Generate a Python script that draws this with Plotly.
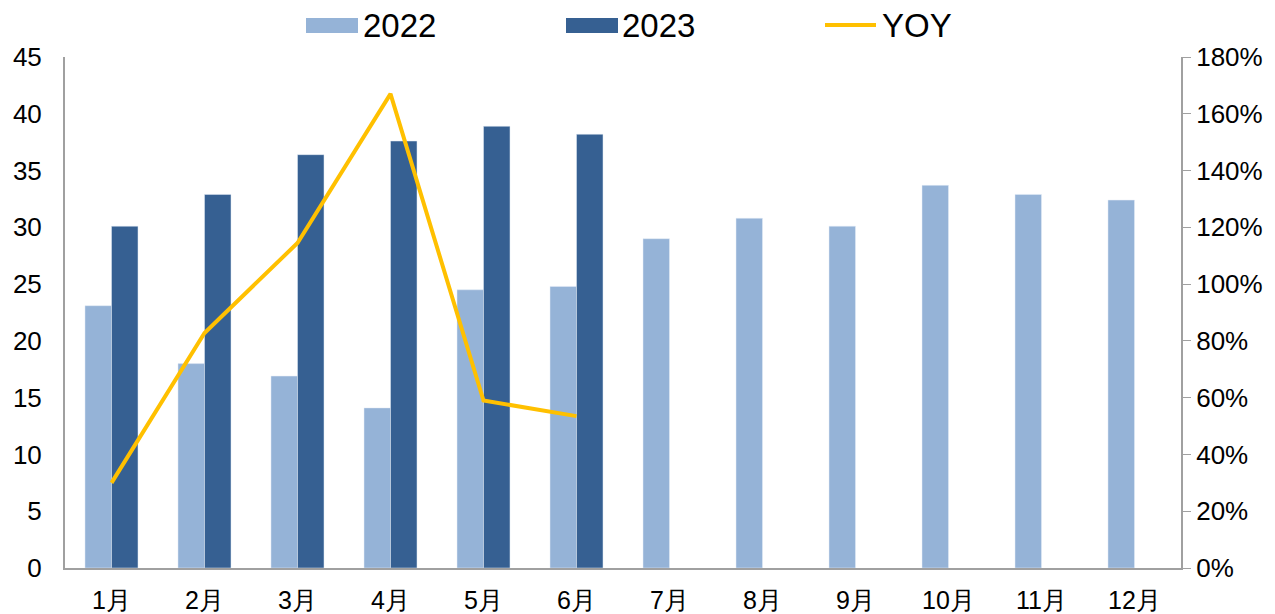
import plotly.graph_objects as go

months = ["1月", "2月", "3月", "4月", "5月", "6月", "7月", "8月", "9月", "10月", "11月", "12月"]
v2022 = [23.1, 18.0, 16.9, 14.1, 24.5, 24.8, 29.0, 30.8, 30.1, 33.7, 32.9, 32.4]
v2023 = [30.1, 32.9, 36.4, 37.6, 38.9, 38.2, None, None, None, None, None, None]
yoy = [0.30, 0.828, 1.145, 1.67, 0.59, 0.535, None, None, None, None, None, None]

c2022 = "#95B3D7"
c2023 = "#366092"
cyoy = "#FFC000"
font = "Liberation Sans, Arial, sans-serif"

# page body has an 8px margin; size the figure so the plot lands where the reference has it
OFF = 8
W, H = 1275 - OFF, 614 - OFF
ML, MR, MT, MB = 65 - OFF, 94, 57 - OFF, 46
PW, PH = W - ML - MR, H - MT - MB


def px(x):
    return (x - OFF - ML) / PW


def py(y):
    return (H - MB - (y - OFF)) / PH


fig = go.Figure()
fig.add_trace(go.Bar(x=months, y=v2022, name="2022", marker_color=c2022))
fig.add_trace(go.Bar(x=months, y=v2023, name="2023", marker_color=c2023))
fig.add_trace(go.Scatter(x=months, y=yoy, name="YOY", mode="lines", yaxis="y2",
                         line=dict(color=cyoy, width=4)))

# custom legend (layout decoration), positions in page pixels
shapes = [
    dict(type="rect", xref="paper", yref="paper", x0=px(306), x1=px(358), y0=py(33), y1=py(18),
         fillcolor=c2022, line=dict(width=0)),
    dict(type="rect", xref="paper", yref="paper", x0=px(566), x1=px(618), y0=py(33), y1=py(18),
         fillcolor=c2023, line=dict(width=0)),
    dict(type="line", xref="paper", yref="paper", x0=px(825), x1=px(876), y0=py(25), y1=py(25),
         line=dict(color=cyoy, width=4)),
]
annotations = [
    dict(text=t, xref="paper", yref="paper", x=px(xx), y=py(25), xanchor="left", yanchor="middle",
         showarrow=False, font=dict(size=33, family=font, color="black"))
    for t, xx in [("2022", 361), ("2023", 620), ("YOY", 880)]
]

fig.update_layout(
    width=W, height=H,
    margin=dict(l=ML, r=MR, t=MT, b=MB, autoexpand=False),
    paper_bgcolor="white", plot_bgcolor="white",
    font=dict(family=font, size=26, color="black"),
    barmode="group", bargap=0.43, bargroupgap=0,
    showlegend=False,
    shapes=shapes, annotations=annotations,
    xaxis=dict(showgrid=False, showline=True, linecolor="#A0A0A0", linewidth=2,
               ticks="", tickfont=dict(size=25), ticklabelstandoff=9),
    yaxis=dict(range=[0, 45], dtick=5, showgrid=False, showline=True,
               linecolor="#A0A0A0", linewidth=2, ticks="", zeroline=False,
               ticklabelstandoff=16),
    yaxis2=dict(range=[0, 1.8], dtick=0.2, tickformat=".0%", overlaying="y", side="right",
                showgrid=False, showline=True, linecolor="#A0A0A0", linewidth=2,
                ticks="outside", ticklen=8, tickcolor="#A0A0A0", zeroline=False),
)

fig.write_html("out.html")
